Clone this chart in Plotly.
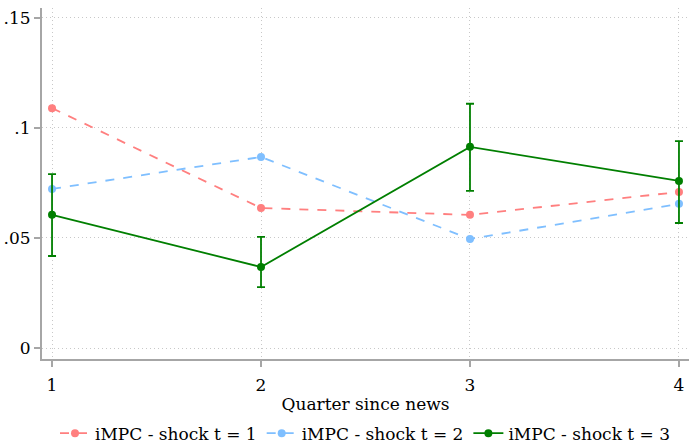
import plotly.graph_objects as go

quarters = [1, 2, 3, 4]
impc_t1 = [0.109, 0.0636, 0.0605, 0.0709]
impc_t2 = [0.0723, 0.0868, 0.0495, 0.0655]
impc_t3 = [0.0605, 0.0368, 0.0914, 0.0759]
impc_t3_hi = [0.0790, 0.0505, 0.1110, 0.0940]
impc_t3_lo = [0.0418, 0.0277, 0.0714, 0.0568]
ytick_vals = [0, 0.05, 0.1, 0.15]
ytick_text = ["0", ".05", ".1", ".15"]
names = ["iMPC - shock t = 1", "iMPC - shock t = 2", "iMPC - shock t = 3"]

red = "#ff7f7f"
blue = "#7fbfff"
green = "#007f00"
font = "DejaVu Serif"

fig = go.Figure()
fig.add_trace(go.Scatter(x=quarters, y=impc_t1, mode="lines+markers", name=names[0],
                         line=dict(color=red, width=1.8, dash="dash"),
                         marker=dict(color=red, size=8)))
fig.add_trace(go.Scatter(x=quarters, y=impc_t2, mode="lines+markers", name=names[1],
                         line=dict(color=blue, width=1.8, dash="dash"),
                         marker=dict(color=blue, size=8)))
fig.add_trace(go.Scatter(x=quarters, y=impc_t3, mode="lines+markers", name=names[2],
                         line=dict(color=green, width=1.8),
                         marker=dict(color=green, size=8),
                         error_y=dict(type="data", symmetric=False,
                                      array=[h - v for h, v in zip(impc_t3_hi, impc_t3)],
                                      arrayminus=[v - l for l, v in zip(impc_t3_lo, impc_t3)],
                                      color=green, thickness=1.8, width=4)))

fig.update_layout(
    width=692, height=448,
    margin=dict(l=42, r=3, t=8, b=89),
    paper_bgcolor="white", plot_bgcolor="white",
    font=dict(family=font, size=17, color="black"),
    showlegend=True,
    legend=dict(orientation="h", x=0.5, xanchor="center", xref="paper",
                y=0.032, yanchor="middle", yref="container",
                font=dict(family=font, size=17), itemwidth=30, tracegroupgap=0),
    xaxis=dict(range=[0.952, 4.048], tickvals=quarters, ticktext=[str(q) for q in quarters],
               showline=True, linecolor="#a6a6a6", linewidth=2,
               ticks="outside", ticklen=6, tickcolor="#a6a6a6", tickwidth=1.5,
               ticklabelstandoff=4,
               showgrid=True, gridcolor="#c8c8c8", griddash="1px,3px", gridwidth=1,
               zeroline=False,
               title=dict(text="Quarter since news", standoff=4, font=dict(family=font, size=17))),
    yaxis=dict(range=[-0.005, 0.1545], tickvals=ytick_vals, ticktext=ytick_text,
               showline=True, linecolor="#a6a6a6", linewidth=2,
               ticks="outside", ticklen=6, tickcolor="#a6a6a6", tickwidth=1.5,
               showgrid=True, gridcolor="#c8c8c8", griddash="1px,3px", gridwidth=1,
               zeroline=False),
)

fig.write_html("out.html")
